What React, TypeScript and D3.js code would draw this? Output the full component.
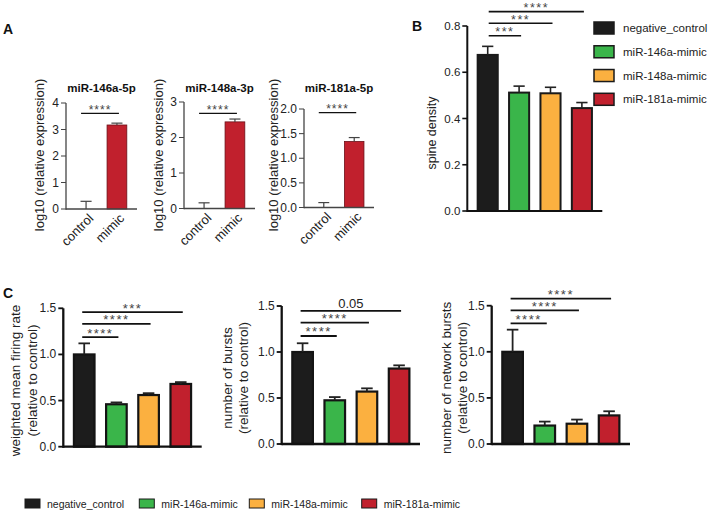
import React from "react";
import * as d3 from "d3";

// ---------- data ----------
const groups = ["negative_control", "miR-146a-mimic", "miR-148a-mimic", "miR-181a-mimic"];
const groupColors = ["#1c1c1c", "#3ab54a", "#fbb040", "#c1202d"];

const spineMean = [0.675, 0.512, 0.509, 0.445];
const spineSem = [0.037, 0.028, 0.026, 0.024];
const spineSigLabels = ["****", "***", "***"];
const spineSigLevels = [0.862, 0.812, 0.758];

const firingMean = [1.0, 0.46, 0.56, 0.68];
const firingSem = [0.12, 0.02, 0.02, 0.02];
const firingSigLabels = ["***", "****", "****"];
const firingSigLevels = [1.458, 1.331, 1.187];

const burstMean = [1.0, 0.475, 0.57, 0.82];
const burstSem = [0.095, 0.035, 0.035, 0.035];
const burstSigLabels = ["0.05", "****", "****"];
const burstSigLevels = [1.446, 1.32, 1.174];

const netBurstMean = [1.0, 0.2, 0.22, 0.31];
const netBurstSem = [0.24, 0.043, 0.045, 0.045];
const netBurstSigLabels = ["****", "****", "****"];
const netBurstSigLevels = [1.576, 1.449, 1.308];

const qpcrTargets = ["miR-146a-5p", "miR-148a-3p", "miR-181a-5p"];
const qpcrConditions = ["control", "mimic"];
const qpcrControlMean = [0, 0, 0];
const qpcrControlSem = [0.29, 0.16, 0.1];
const qpcrMimicMean = [3.17, 2.44, 1.34];
const qpcrMimicSem = [0.07, 0.08, 0.08];
const qpcrMax = [4, 3, 2];
const qpcrTicks = [[0, 1, 2, 3, 4], [0, 1, 2, 3], [0, 0.5, 1.0, 1.5, 2.0]];
const qpcrTickFmt = ["d", "d", ".1f"];
const qpcrSigLabel = ["****", "****", "****"];
const qpcrSigLevel = [3.61, 2.68, 1.925];

const ticksB = [0, 0.2, 0.4, 0.6, 0.8];
const ticksC = [0, 0.5, 1.0, 1.5];

const FONT = "'Liberation Sans', Arial, Helvetica, sans-serif";
const TXT = "#222";

type Sig = { to: number; label: string; level: number };
type PanelProps = {
  x0: number; x1: number; yMaxPx: number; y0Px: number;
  domainMax: number; ticks: number[]; fmt: string;
  cats: string[]; means: number[]; sems: number[]; colors: string[];
  barStroke: string; barStrokeW: number; axisW: number; axisColor: string;
  errColor: string; errW: number;
  sigs: Sig[]; sigStart: number; sigFont: number; sigSpacing: number; sigLineW: number;
  tickFont: number;
};

function BarPanel(p: PanelProps) {
  const x = d3.scaleBand<string>().domain(p.cats).range([p.x0, p.x1]).paddingInner(0.36).paddingOuter(0.33);
  const y = d3.scaleLinear().domain([0, p.domainMax]).range([p.y0Px, p.yMaxPx]);
  const bw = x.bandwidth();
  const cx = (i: number) => (x(p.cats[i]) as number) + bw / 2;
  const fmt = d3.format(p.fmt);
  const cap = bw * 0.28;
  return (
    <g>
      {p.means.map((m, i) =>
        m > 0 ? (
          <rect key={"b" + i} x={x(p.cats[i])} y={y(m)} width={bw} height={y(0) - y(m)}
            fill={p.colors[i]} stroke={p.barStroke} strokeWidth={p.barStrokeW} />
        ) : null
      )}
      {p.means.map((m, i) => (
        <g key={"e" + i} stroke={p.errColor} strokeWidth={p.errW}>
          <line x1={cx(i)} x2={cx(i)} y1={y(m)} y2={y(m + p.sems[i])} />
          <line x1={cx(i) - cap} x2={cx(i) + cap} y1={y(m + p.sems[i])} y2={y(m + p.sems[i])} />
        </g>
      ))}
      <line x1={p.x0} x2={p.x0} y1={y(0) + p.axisW / 2} y2={y(p.domainMax)} stroke={p.axisColor} strokeWidth={p.axisW} />
      <line x1={p.x0} x2={p.x1} y1={y(0)} y2={y(0)} stroke={p.axisColor} strokeWidth={p.axisW} />
      {p.ticks.map((t) => (
        <g key={"t" + t}>
          <line x1={p.x0 - 5} x2={p.x0} y1={y(t)} y2={y(t)} stroke={p.axisColor} strokeWidth={p.axisW * 0.8} />
          <text x={p.x0 - 7} y={y(t)} textAnchor="end" dominantBaseline="central" fontSize={p.tickFont} fill={TXT} fontFamily={FONT}>
            {fmt(t)}
          </text>
        </g>
      ))}
      {p.sigs.map((s, k) => {
        const xa = cx(0) + p.sigStart;
        const xb = cx(s.to) + 2;
        const ly = y(s.level);
        const isNum = /\d/.test(s.label);
        return (
          <g key={"s" + k}>
            <line x1={xa} x2={xb} y1={ly} y2={ly} stroke="#111" strokeWidth={p.sigLineW} />
            <text x={(xa + xb) / 2} y={isNum ? ly - 2.5 : ly + 0.5} textAnchor="middle" fontSize={p.sigFont}
              letterSpacing={isNum ? 0 : p.sigSpacing} fill={isNum ? TXT : "#444"} fontFamily={FONT}>
              {s.label}
            </text>
          </g>
        );
      })}
    </g>
  );
}

function YLabel({ x, y, lines, size, gap }: { x: number; y: number; lines: string[]; size: number; gap: number }) {
  return (
    <g>
      {lines.map((l, i) => (
        <text key={i} transform={`translate(${x + i * gap},${y}) rotate(-90)`} textAnchor="middle"
          dominantBaseline="central" fontSize={size} fill={TXT} fontFamily={FONT}>
          {l}
        </text>
      ))}
    </g>
  );
}

const mkSigs = (labels: string[], levels: number[]): Sig[] =>
  labels.map((l, i) => ({ to: groups.length - 1 - i, label: l, level: levels[i] }));

export default function App() {
  const aGeom = [
    { x0: 66, x1: 137, yMax: 103, y0: 209, lab: 39 },
    { x0: 184, x1: 255, yMax: 102, y0: 208.5, lab: 158 },
    { x0: 304, x1: 374, yMax: 109, y0: 207.5, lab: 273 },
  ];
  const cGeom = [
    { x0: 63.3, x1: 201.7, yMax: 308.3, y0: 446.7, lab: 15, gap: 17, lines: ["weighted mean firing rate", "(relative to control)"] },
    { x0: 281.7, x1: 420, yMax: 306, y0: 444, lab: 227, gap: 16, lines: ["number of bursts", "(relative to control)"] },
    { x0: 491.7, x1: 630, yMax: 305.7, y0: 444, lab: 446, gap: 16, lines: ["number of network bursts", "(relative to control)"] },
  ];
  const cData = [
    { m: firingMean, s: firingSem, sig: mkSigs(firingSigLabels, firingSigLevels) },
    { m: burstMean, s: burstSem, sig: mkSigs(burstSigLabels, burstSigLevels) },
    { m: netBurstMean, s: netBurstSem, sig: mkSigs(netBurstSigLabels, netBurstSigLevels) },
  ];

  const legendB = d3.scaleLinear().domain([0, 3]).range([28, 99.3]);
  const legendBottomX = [25, 139.3, 249.3, 361.7];

  return (
    <svg width={709} height={513} style={{ position: "absolute", left: 0, top: 0, background: "#fff" }} fontFamily={FONT}>
      {/* panel letters */}
      <text x={3} y={34} fontSize={14} fontWeight="bold" fill="#111">A</text>
      <text x={412} y={31} fontSize={14} fontWeight="bold" fill="#111">B</text>
      <text x={3} y={298} fontSize={14} fontWeight="bold" fill="#111">C</text>

      {/* Panel A */}
      {qpcrTargets.map((t, i) => {
        const g = aGeom[i];
        const x = d3.scaleBand<string>().domain(qpcrConditions).range([g.x0, g.x1]).paddingInner(0.36).paddingOuter(0.33);
        const bw = x.bandwidth();
        return (
          <g key={t}>
            <BarPanel x0={g.x0} x1={g.x1} yMaxPx={g.yMax} y0Px={g.y0} domainMax={qpcrMax[i]} ticks={qpcrTicks[i]}
              fmt={qpcrTickFmt[i]} cats={qpcrConditions} means={[qpcrControlMean[i], qpcrMimicMean[i]]}
              sems={[qpcrControlSem[i], qpcrMimicSem[i]]} colors={["#888", groupColors[3]]}
              barStroke="#6b1018" barStrokeW={0.8} axisW={1.3} axisColor="#444" errColor="#444" errW={1.2}
              sigs={[{ to: 1, label: qpcrSigLabel[i], level: qpcrSigLevel[i] }]} sigStart={-5} sigFont={12}
              sigSpacing={1} sigLineW={1.3} tickFont={12} />
            <text x={(g.x0 + g.x1) / 2} y={92} textAnchor="middle" fontSize={11.5} fontWeight="bold" fill="#111">{t}</text>
            <YLabel x={g.lab} y={155} lines={["log10 (relative expression)"]} size={13} gap={0} />
            {qpcrConditions.map((c) => (
              <text key={c} transform={`translate(${(x(c) as number) + bw / 2 + 5},${g.y0 + 7}) rotate(-45)`}
                textAnchor="end" dominantBaseline="central" fontSize={13} fill={TXT}>{c}</text>
            ))}
          </g>
        );
      })}

      {/* Panel B */}
      <BarPanel x0={467.3} x1={602.3} yMaxPx={26} y0Px={211} domainMax={0.8} ticks={ticksB} fmt=".1f"
        cats={groups} means={spineMean} sems={spineSem} colors={groupColors} barStroke="#1a1a1a" barStrokeW={2}
        axisW={2} axisColor="#111" errColor="#222" errW={1.6} sigs={mkSigs(spineSigLabels, spineSigLevels)}
        sigStart={1} sigFont={12.5} sigSpacing={1.5} sigLineW={1.6} tickFont={11.5} />
      <YLabel x={432} y={133} lines={["spine density"]} size={12.5} gap={0} />
      {groups.map((g, i) => (
        <g key={g}>
          <rect x={594} y={legendB(i) - 6} width={20} height={12} fill={groupColors[i]} stroke="#1a1a1a" strokeWidth={1.5} />
          <text x={623} y={legendB(i)} dominantBaseline="central" fontSize={11.5} fill={TXT}>{g}</text>
        </g>
      ))}

      {/* Panel C */}
      {cGeom.map((g, i) => (
        <g key={"c" + i}>
          <BarPanel x0={g.x0} x1={g.x1} yMaxPx={g.yMax} y0Px={g.y0} domainMax={1.5} ticks={ticksC} fmt=".1f"
            cats={groups} means={cData[i].m} sems={cData[i].s} colors={groupColors} barStroke="#141414" barStrokeW={2.2}
            axisW={2.3} axisColor="#111" errColor="#222" errW={1.8} sigs={cData[i].sig} sigStart={-2}
            sigFont={13} sigSpacing={1.5} sigLineW={1.8} tickFont={12} />
          <YLabel x={g.lab} y={(g.y0 + g.yMax) / 2 + 3} lines={g.lines} size={13.5} gap={g.gap} />
        </g>
      ))}

      {/* bottom legend */}
      {groups.map((g, i) => (
        <g key={"lb" + g}>
          <rect x={legendBottomX[i]} y={499} width={15} height={9} fill={groupColors[i]} stroke="#1a1a1a" strokeWidth={1} />
          <text x={legendBottomX[i] + 22} y={503.5} dominantBaseline="central" fontSize={10.5} fill={TXT}>{g}</text>
        </g>
      ))}
    </svg>
  );
}
